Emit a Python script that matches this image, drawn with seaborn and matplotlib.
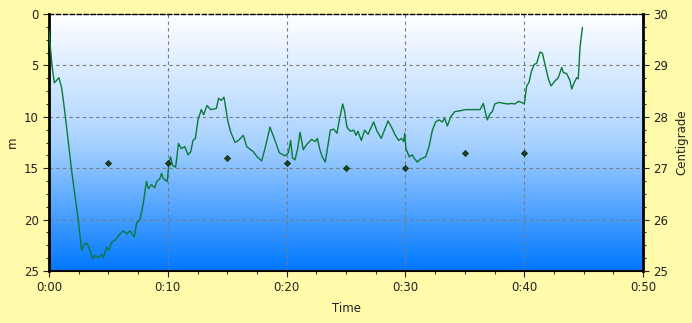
import numpy as np
import pandas as pd
import matplotlib
matplotlib.use("Agg")
import matplotlib.pyplot as plt
from matplotlib.ticker import FuncFormatter, MultipleLocator
from matplotlib.colors import LinearSegmentedColormap
import seaborn as sns

# ---- data ----
time_min = [0.0, 0.25, 0.45, 0.84, 1.07, 1.35, 1.9, 2.47, 2.75, 2.97, 3.2, 3.45, 3.65, 3.87, 4.15,
            4.43, 4.57, 4.86, 5.05, 5.27, 5.56, 5.98, 6.26, 6.54, 6.82, 7.18, 7.38, 7.66, 7.94, 8.2,
            8.38, 8.62, 8.9, 9.07, 9.34, 9.48, 9.62, 9.95, 10.1, 10.24, 10.38, 10.66, 10.9, 11.14,
            11.42, 11.7, 11.93, 12.12, 12.32, 12.54, 12.82, 13.02, 13.3, 13.61, 14.08, 14.28, 14.5,
            14.73, 15.07, 15.3, 15.66, 15.94, 16.36, 16.64, 17.2, 17.53, 17.9, 18.18, 18.6, 19.02,
            19.39, 19.87, 20.15, 20.34, 20.5, 20.7, 20.93, 21.13, 21.4, 21.69, 22.1, 22.4, 22.59,
            22.8, 23.0, 23.26, 23.68, 23.96, 24.24, 24.44, 24.72, 24.89, 25.08, 25.36, 25.65, 25.84,
            26.0, 26.29, 26.57, 26.85, 27.33, 27.61, 27.97, 28.54, 28.87, 29.15, 29.44, 29.66, 29.86,
            29.94, 30.05, 30.33, 30.56, 30.78, 31.0, 31.29, 31.7, 31.99, 32.27, 32.55, 32.83, 33.1,
            33.3, 33.53, 33.81, 34.15, 34.66, 35.08, 35.5, 35.92, 36.28, 36.56, 36.76, 36.9, 37.12,
            37.32, 37.52, 37.88, 38.3, 38.66, 38.94, 39.23, 39.5, 39.79, 40.01, 40.21, 40.4, 40.63,
            40.85, 41.05, 41.33, 41.53, 41.81, 42.03, 42.26, 42.6, 42.87, 43.16, 43.29, 43.58, 43.86,
            44.0, 44.22, 44.42, 44.55, 44.7, 44.9]
depth_m = [1.6, 5.0, 6.7, 6.2, 7.2, 9.7, 15.2, 20.1, 23.0, 22.4, 22.3, 23.0, 23.8, 23.5, 23.7,
           23.4, 23.7, 22.7, 23.0, 22.2, 22.0, 21.4, 21.1, 21.4, 21.1, 21.7, 20.3, 20.0, 18.4, 16.3,
           17.0, 16.6, 16.9, 16.3, 16.0, 15.5, 16.0, 16.3, 14.4, 13.9, 14.7, 14.9, 12.6, 13.1,
           12.9, 13.7, 13.4, 12.3, 12.1, 10.3, 9.3, 9.8, 8.9, 9.3, 9.2, 8.2, 8.4,
           8.1, 10.5, 11.5, 12.5, 12.3, 11.8, 12.9, 13.4, 13.9, 14.3, 13.1, 11.0, 12.3,
           13.5, 13.8, 13.5, 12.3, 14.0, 14.2, 13.1, 11.5, 13.2, 12.7, 12.2, 12.4, 12.1,
           13.2, 13.9, 14.4, 11.3, 11.2, 11.6, 10.3, 8.75, 9.5, 11.0, 11.4, 11.3, 11.8,
           11.4, 12.3, 11.3, 11.7, 10.5, 11.4, 12.1, 10.4, 11.1, 11.8, 12.3, 12.1, 12.4,
           11.6, 13.1, 13.9, 13.7, 14.1, 14.4, 14.1, 13.9, 12.9, 11.3, 10.5, 10.3, 10.5,
           10.15, 10.9, 10.0, 9.5, 9.4, 9.3, 9.3, 9.3, 9.3, 8.7, 9.7, 10.3, 9.7,
           9.5, 8.75, 8.6, 8.7, 8.75, 8.7, 8.75, 8.5, 8.6, 8.75, 7.0, 6.65, 5.5,
           4.9, 4.8, 3.7, 3.8, 5.2, 6.3, 7.0, 6.5, 6.2, 5.2, 5.7, 5.8, 6.5,
           7.3, 6.65, 6.2, 6.3, 3.2, 1.3]

temp_time_min = [5, 10, 15, 20, 25, 30, 35, 40]
temp_c = [27.1, 27.1, 27.2, 27.1, 27.0, 27.0, 27.3, 27.3]

x_ticks = [0, 10, 20, 30, 40, 50]
depth_ticks = [0, 5, 10, 15, 20, 25]
temp_ticks = [25, 26, 27, 28, 29, 30]

profile = pd.DataFrame({"Time": time_min, "Depth": depth_m})
temps = pd.DataFrame({"Time": temp_time_min, "Temp": temp_c})

# ---- style ----
sns.set_style("ticks")
plt.rcParams["font.family"] = ["DejaVu Sans"]
bg = "#FFFBAA"
text_col = "#222222"

fig = plt.figure(figsize=(6.92, 3.23), dpi=100, facecolor=bg)
ax = fig.add_axes([49 / 692, 1 - 271 / 323, (643 - 49) / 692, (271 - 14) / 323])

# gradient background
cmap = LinearSegmentedColormap.from_list("sea", ["#FFFFFF", "#A9D2FF", "#0078FF"])
grad = np.linspace(0, 1, 256).reshape(-1, 1)
ax.imshow(grad, extent=[0, 50, 25, 0], aspect="auto", cmap=cmap, zorder=0,
          interpolation="bilinear")

sns.lineplot(data=profile, x="Time", y="Depth", ax=ax, color="#0A7A36", linewidth=1.0,
             zorder=3, estimator=None, sort=False)

ax.set_xlim(0, 50)
ax.set_ylim(25, 0)
ax.set_xticks(x_ticks)
ax.set_yticks(depth_ticks)
ax.xaxis.set_minor_locator(MultipleLocator(2.5))
ax.yaxis.set_minor_locator(MultipleLocator(1.25))
ax.xaxis.set_major_formatter(FuncFormatter(lambda v, p: f"{int(v // 60)}:{int(v % 60):02d}"))
ax.grid(True, which="major", color="#7A7A7A", linestyle=(0, (3, 3)), linewidth=0.8)
for gl in ax.get_xgridlines() + ax.get_ygridlines():
    gl.set_zorder(1.5)

ax.tick_params(axis="both", which="major", labelsize=8.5, colors=text_col, length=4, width=0.8)
ax.tick_params(axis="both", which="minor", length=2.5, width=0.8, colors="#333333")
ax.set_xlabel("Time", fontsize=8.5, color=text_col)
ax.set_ylabel("m", fontsize=8.5, color=text_col)
ax.xaxis.set_label_coords(0.5, -0.12)
ax.yaxis.set_label_coords(-0.05, 0.5)

for side in ["left", "right", "bottom"]:
    ax.spines[side].set_color("black")
    ax.spines[side].set_linewidth(2.0)
ax.spines["top"].set_color("black")
ax.spines["top"].set_linestyle((0, (3, 2)))
ax.spines["top"].set_linewidth(1.0)
ax.spines["bottom"].set_linewidth(1.5)

ax2 = ax.twinx()
sns.scatterplot(data=temps, x="Time", y="Temp", ax=ax2, marker="D", s=10, color="#1E4020",
                edgecolor="#0E2A10", linewidth=0.5, zorder=4)
ax2.set_ylim(25, 30)
ax2.set_yticks(temp_ticks)
ax2.yaxis.set_minor_locator(MultipleLocator(0.25))
ax2.tick_params(axis="y", which="major", labelsize=8.5, colors=text_col, length=4, width=0.8)
ax2.tick_params(axis="y", which="minor", length=2.5, width=0.8)
ax2.set_ylabel("Centigrade", fontsize=8.5, color=text_col)
ax2.yaxis.set_label_coords(1.055, 0.5)
for side in ["left", "right", "top", "bottom"]:
    ax2.spines[side].set_visible(False)

fig.savefig("out.png", dpi=100, facecolor=bg)
